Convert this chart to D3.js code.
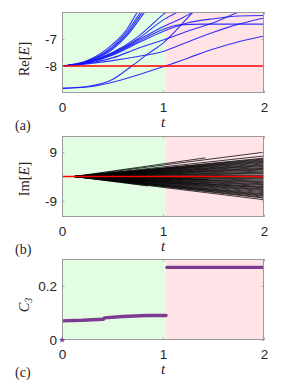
<!DOCTYPE html>
<html>
<head>
<meta charset="utf-8">
<script src="https://cdn.jsdelivr.net/npm/d3@7"></script>
<style>
  body { margin: 0; background: #fff; }
  svg { display: block; }
</style>
</head>
<body>
<svg width="291" height="388"></svg>
<script>
// ---- data ----
const tDomain = [0, 2];
const xTicks = [0, 1, 2];
const phaseSplit = 1.03; // green region ends, pink starts

// (a) Re[E]
const reDomain = [-9, -6];
const reTicks = [-8, -7];
const reFlat = [[0, -8], [2, -8]];
const reCurves = [
  [[0, -8], [0.25, -7.84], [0.5, -7.38], [0.65, -6.85], [0.8, -6.1], [0.9, -5.6]],
  [[0, -8], [0.25, -7.83], [0.5, -7.33], [0.65, -6.78], [0.78, -6.1], [0.88, -5.6]],
  [[0, -8], [0.25, -7.82], [0.5, -7.28], [0.65, -6.7], [0.76, -6.1], [0.85, -5.6]],
  [[0, -8], [0.25, -7.8], [0.5, -7.2], [0.65, -6.6], [0.73, -6.1], [0.82, -5.6]],
  [[0, -8], [0.25, -7.86], [0.5, -7.5], [0.75, -6.92], [1.0, -6.1], [1.1, -5.8]],
  [[0, -8], [0.25, -7.86], [0.5, -7.52], [0.75, -7.0], [1.0, -6.3], [1.2, -5.9]],
  [[0, -8], [0.25, -7.87], [0.5, -7.55], [0.75, -7.05], [1.0, -6.55], [1.2, -6.2], [1.3, -6.0], [1.4, -5.85]],
  [[0, -8], [0.25, -7.87], [0.5, -7.57], [0.75, -7.1], [1.0, -6.65], [1.15, -6.48], [1.4, -6.45], [2, -6.45]],
  [[0, -8], [0.25, -7.88], [0.5, -7.6], [0.75, -7.15], [1.0, -6.72], [1.25, -6.4], [1.5, -6.25], [1.75, -6.15], [2, -6.13]],
  [[0, -8], [0.25, -7.9], [0.5, -7.7], [0.75, -7.35], [1.0, -7.04], [1.25, -6.7], [1.5, -6.4], [1.75, -6.0], [1.9, -5.8]],
  [[0, -8], [0.25, -7.92], [0.5, -7.8], [0.75, -7.65], [1.0, -7.46], [1.25, -7.1], [1.5, -6.75], [1.75, -6.45], [2, -6.22]],
  [[0, -8.83], [0.25, -8.78], [0.5, -8.6], [0.75, -8.33], [1.0, -8.03], [1.25, -7.7], [1.5, -7.37], [1.75, -7.1], [2, -6.89]],
  [[0, -8.83], [0.25, -8.76], [0.5, -8.5], [0.69, -8.0], [0.85, -7.55], [1.0, -7.15], [1.15, -6.6], [1.3, -6.0], [1.4, -5.7]]
];

// (b) Im[E]: every branch leaves 0 at imStartT and runs straight to its end point
const imDomain = [-15, 15];
const imTicks = [-9, 9];
const imStartT = 0.12;
const imEnds = [
  [2, 9.0], [2, 7.6], [2, 6.8], [2, 6.5], [2, 6.2], [2, 5.9], [2, 5.6], [2, 5.3],
  [2, 5.0], [2, 4.6], [2, 4.3], [2, 4.0], [2, 3.7], [2, 3.3], [2, 3.0], [2, 2.7],
  [2, 2.4], [2, 2.0], [2, 1.6], [2, 1.3], [2, 1.0], [2, 0.5], [2, 0.2], [2, -0.3],
  [2, -0.6], [2, -0.9], [2, -1.3], [2, -1.7], [2, -2.0], [2, -2.3], [2, -2.7], [2, -3.0],
  [2, -3.3], [2, -3.7], [2, -4.0], [2, -4.2], [2, -4.6], [2, -4.9], [2, -5.2], [2, -5.6],
  [2, -6.0], [2, -6.4], [2, -6.7], [2, -7.0], [2, -7.3], [2, -7.7], [2, -8.0], [2, -8.6],
  [1.42, 6.9], [0.85, -3.5], [1.45, -1.1]
];
const imFlat = [[0, 0], [2, 0]];

// (c) C3
const c3Domain = [0, 0.3];
const c3Ticks = [0, 0.2];
const c3Segments = [
  [[0, 0.071], [0.2, 0.073], [0.41, 0.077]],
  [[0.42, 0.082], [0.6, 0.087], [0.84, 0.0905], [1.03, 0.0905]],
  [[1.04, 0.269], [2, 0.269]]
];
const c3Origin = [[0, 0]];

// ---- layout ----
const plotLeft = 62;
const plotRight = 264;
const panels = [
  { id: "a", top: 12, bottom: 93, domain: reDomain, ticks: reTicks, fmt: d => String(d) },
  { id: "b", top: 136, bottom: 217, domain: imDomain, ticks: imTicks, fmt: d => String(d) },
  { id: "c", top: 259, bottom: 340, domain: c3Domain, ticks: c3Ticks, fmt: d => (d === 0 ? "0" : String(d)) }
];

const svg = d3.select("svg");
const sansFont = "'Liberation Sans', Arial, sans-serif";
const serifFont = "'Liberation Serif', 'Times New Roman', serif";
const frameColor = "#9a9a9a";

const xScale = d3.scaleLinear().domain(tDomain).range([plotLeft, plotRight]);

panels.forEach(p => {
  p.y = d3.scaleLinear().domain(p.domain).range([p.bottom, p.top]);

  const g = svg.append("g");
  p.g = g;

  // green / pink phase background
  g.append("rect")
    .attr("x", xScale(tDomain[0]))
    .attr("y", p.top)
    .attr("width", xScale(phaseSplit) - xScale(tDomain[0]))
    .attr("height", p.bottom - p.top)
    .attr("fill", "#e2fde2");
  g.append("rect")
    .attr("x", xScale(phaseSplit))
    .attr("y", p.top)
    .attr("width", xScale(tDomain[1]) - xScale(phaseSplit))
    .attr("height", p.bottom - p.top)
    .attr("fill", "#ffe3e6");

  svg.append("clipPath")
    .attr("id", "clip-" + p.id)
    .append("rect")
    .attr("x", plotLeft)
    .attr("y", p.top)
    .attr("width", plotRight - plotLeft)
    .attr("height", p.bottom - p.top);

  p.marks = g.append("g").attr("clip-path", `url(#clip-${p.id})`);
});

// (a) curves
const pa = panels[0];
const reLine = d3.line()
  .x(d => xScale(d[0]))
  .y(d => pa.y(d[1]))
  .curve(d3.curveMonotoneX);
pa.marks.selectAll("path.re")
  .data(reCurves)
  .enter()
  .append("path")
  .attr("class", "re")
  .attr("d", reLine)
  .attr("fill", "none")
  .attr("stroke", "#1010ff")
  .attr("stroke-opacity", 0.85)
  .attr("stroke-width", 1.1);
pa.marks.append("path")
  .attr("d", d3.line().x(d => xScale(d[0])).y(d => pa.y(d[1]))(reFlat))
  .attr("fill", "none")
  .attr("stroke", "#ff0000")
  .attr("stroke-width", 1.5);

// (b) fan of Im branches
const pb = panels[1];
pb.marks.selectAll("line.im")
  .data(imEnds)
  .enter()
  .append("line")
  .attr("class", "im")
  .attr("x1", xScale(imStartT))
  .attr("y1", pb.y(0))
  .attr("x2", d => xScale(d[0]))
  .attr("y2", d => pb.y(d[1]))
  .attr("stroke", "#000")
  .attr("stroke-opacity", 0.85)
  .attr("stroke-width", 0.9);
pb.marks.append("path")
  .attr("d", d3.line().x(d => xScale(d[0])).y(d => pb.y(d[1]))(imFlat))
  .attr("fill", "none")
  .attr("stroke", "#ff0000")
  .attr("stroke-width", 1.5);

// (c) C3
const pc = panels[2];
const c3Line = d3.line().x(d => xScale(d[0])).y(d => pc.y(d[1]));
pc.marks.selectAll("path.c3")
  .data(c3Segments)
  .enter()
  .append("path")
  .attr("class", "c3")
  .attr("d", c3Line)
  .attr("fill", "none")
  .attr("stroke", "#7e3a8e")
  .attr("stroke-width", 3.4)
  .attr("stroke-linecap", "round");
svg.selectAll("path.origin")
  .data(c3Origin)
  .enter()
  .append("path")
  .attr("class", "origin")
  .attr("d", d3.symbol(d3.symbolStar, 12))
  .attr("transform", d => `translate(${xScale(d[0])},${pc.y(d[1])})`)
  .attr("fill", "#7e3a8e");

// axes, frame and labels
const yLabels = [
  { id: "a", parts: [["Re[", "normal"], ["E", "italic"], ["]", "normal"]], cy: 59 },
  { id: "b", parts: [["Im[", "normal"], ["E", "italic"], ["]", "normal"]], cy: 179 },
  { id: "c", parts: [["C", "italic"]], sub: "3", cy: 305 }
];

panels.forEach((p, i) => {
  const g = p.g;

  const xAxis = d3.axisBottom(xScale)
    .tickValues(xTicks)
    .tickFormat(d => String(d))
    .tickSizeInner(-2.5)
    .tickSizeOuter(0)
    .tickPadding(9);
  const gx = g.append("g")
    .attr("transform", `translate(0,${p.bottom})`)
    .call(xAxis);

  const xTop = d3.axisTop(xScale).tickValues(xTicks).tickFormat("").tickSizeInner(-2.5).tickSizeOuter(0);
  const gxt = g.append("g").attr("transform", `translate(0,${p.top})`).call(xTop);

  const yAxis = d3.axisLeft(p.y)
    .tickValues(p.ticks)
    .tickFormat(p.fmt)
    .tickSizeInner(-2.5)
    .tickSizeOuter(0)
    .tickPadding(5);
  const gy = g.append("g")
    .attr("transform", `translate(${plotLeft},0)`)
    .call(yAxis);

  const yRight = d3.axisRight(p.y).tickValues(p.ticks).tickFormat("").tickSizeInner(-2.5).tickSizeOuter(0);
  const gyr = g.append("g").attr("transform", `translate(${plotRight},0)`).call(yRight);

  [gx, gxt, gy, gyr].forEach(ax => {
    ax.select(".domain").remove();
    ax.selectAll(".tick line").attr("stroke", frameColor).attr("stroke-width", 0.8);
    ax.selectAll(".tick text")
      .attr("fill", "#262626")
      .style("font-family", sansFont)
      .style("font-size", "13.5px");
  });

  g.append("rect")
    .attr("x", plotLeft + 0.5)
    .attr("y", p.top + 0.5)
    .attr("width", plotRight - plotLeft - 1)
    .attr("height", p.bottom - p.top - 1)
    .attr("fill", "none")
    .attr("stroke", frameColor)
    .attr("stroke-width", 1);

  // t label
  g.append("text")
    .attr("x", xScale(1))
    .attr("y", p.bottom + 34)
    .attr("text-anchor", "middle")
    .style("font-family", serifFont)
    .style("font-style", "italic")
    .style("font-size", "15px")
    .attr("fill", "#262626")
    .text("t");

  // panel letter
  g.append("text")
    .attr("x", 15)
    .attr("y", p.bottom + 37)
    .style("font-family", serifFont)
    .style("font-size", "14px")
    .attr("fill", "#262626")
    .text(`(${p.id})`);

  // y label
  const yl = yLabels[i];
  const yt = g.append("text")
    .attr("transform", `translate(29,${yl.cy}) rotate(-90)`)
    .attr("text-anchor", "middle")
    .style("font-family", serifFont)
    .style("font-size", "14.5px")
    .attr("fill", "#262626");
  yl.parts.forEach(part => {
    yt.append("tspan").style("font-style", part[1]).text(part[0]);
  });
  if (yl.sub) {
    yt.append("tspan")
      .attr("dy", 3)
      .style("font-size", "10px")
      .style("font-style", "italic")
      .text(yl.sub);
  }
});
</script>
</body>
</html>
